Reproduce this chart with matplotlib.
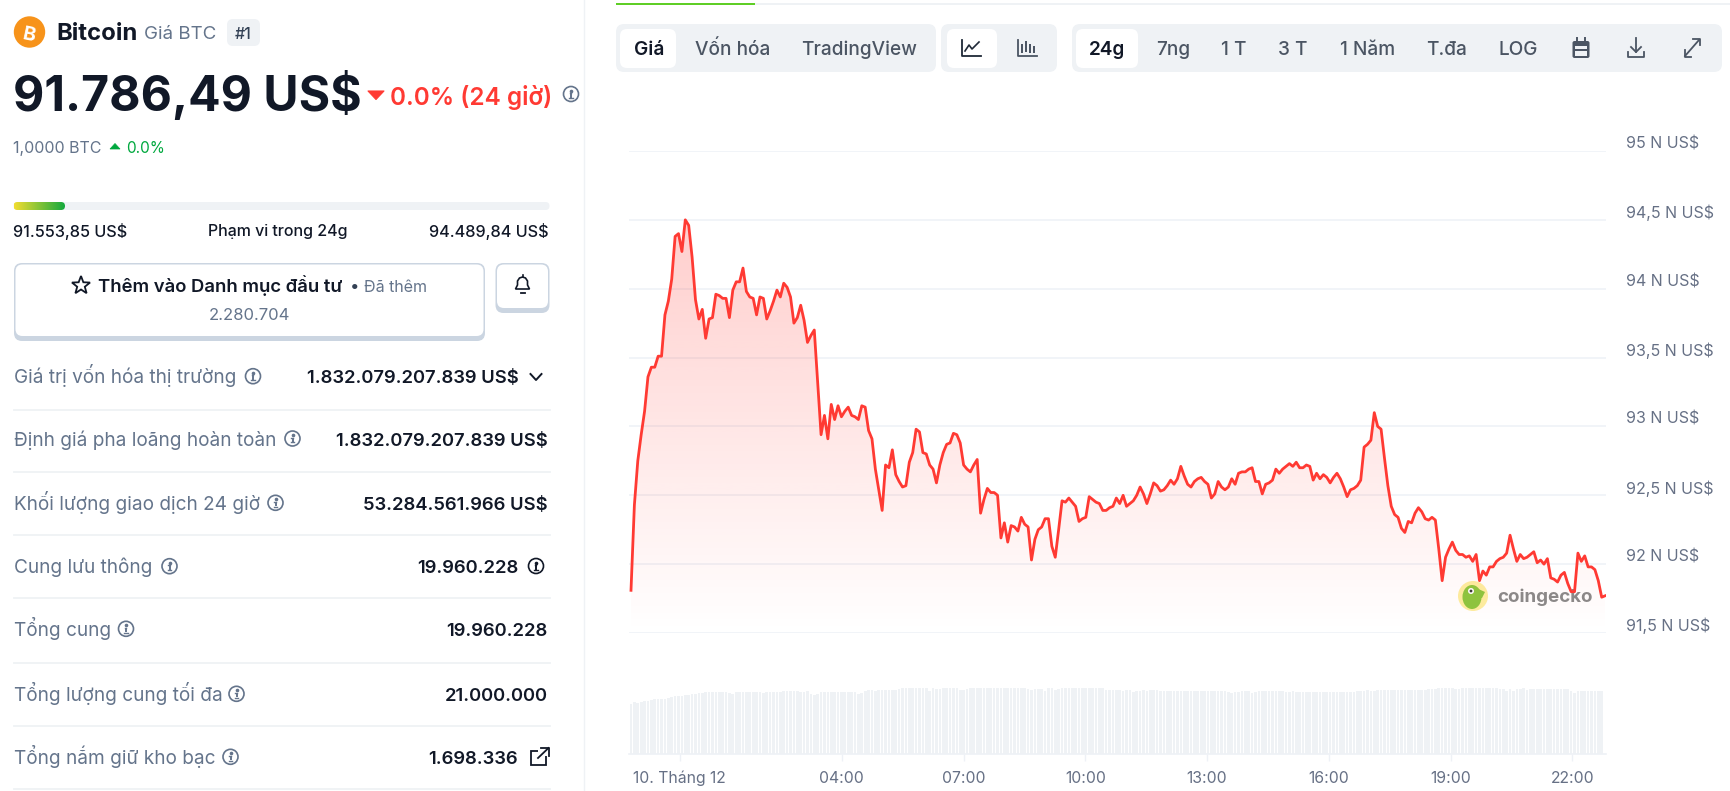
import numpy as np
import matplotlib
matplotlib.use("Agg")
import matplotlib.pyplot as plt
from matplotlib.patches import FancyBboxPatch, Circle, Polygon, Rectangle, Ellipse
from matplotlib.transforms import ScaledTranslation

plt.rcParams['font.family'] = ['Inter', 'Noto Sans', 'DejaVu Sans']

# ---------- data ----------
prices = [
91.81,92.43,92.75,92.94,93.11,93.36,93.43,93.43,93.51,93.51,93.81,93.91,94.07,94.38,94.40,94.27,94.50,94.46,94.23,93.92,
93.78,93.85,93.64,93.78,93.79,93.96,93.95,93.93,93.93,93.79,93.99,94.05,94.05,94.15,93.98,93.94,93.93,93.81,93.94,93.93,
93.78,93.84,93.91,93.99,93.94,94.04,94.01,93.94,93.75,93.79,93.88,93.77,93.61,93.66,93.70,93.32,92.94,93.08,92.91,93.16,
93.05,93.15,93.07,93.11,93.14,93.08,93.07,93.05,93.15,93.14,92.97,92.91,92.69,92.54,92.39,92.72,92.70,92.83,92.65,92.60,
92.56,92.57,92.74,92.81,92.98,92.96,92.81,92.80,92.72,92.69,92.59,92.72,92.81,92.87,92.88,92.95,92.94,92.88,92.72,92.69,
92.67,92.72,92.76,92.37,92.47,92.55,92.52,92.52,92.50,92.19,92.30,92.16,92.28,92.27,92.24,92.34,92.29,92.27,92.03,92.18,
92.25,92.27,92.33,92.33,92.13,92.05,92.25,92.46,92.45,92.48,92.45,92.42,92.31,92.33,92.34,92.49,92.47,92.45,92.44,92.39,
92.39,92.41,92.42,92.48,92.44,92.50,92.42,92.44,92.46,92.50,92.56,92.51,92.44,92.51,92.59,92.57,92.53,92.54,92.57,92.61,
92.58,92.62,92.71,92.64,92.58,92.56,92.60,92.62,92.63,92.60,92.58,92.48,92.51,92.60,92.56,92.54,92.56,92.62,92.58,92.66,
92.67,92.67,92.69,92.70,92.60,92.60,92.51,92.58,92.59,92.61,92.69,92.66,92.69,92.71,92.73,92.71,92.74,92.70,92.70,92.72,
92.71,92.61,92.66,92.62,92.65,92.63,92.59,92.63,92.66,92.62,92.56,92.49,92.54,92.55,92.57,92.61,92.85,92.87,92.90,93.10,
93.00,92.98,92.77,92.57,92.42,92.36,92.34,92.26,92.23,92.31,92.30,92.37,92.41,92.38,92.33,92.32,92.34,92.32,92.11,91.88,
92.05,92.11,92.16,92.10,92.07,92.07,92.05,92.06,92.02,92.07,91.88,91.95,91.92,91.98,91.98,92.02,92.04,92.05,92.08,92.21,
92.11,92.02,92.07,92.04,92.05,92.07,92.09,92.01,92.03,92.00,92.04,91.90,91.89,91.87,91.92,91.94,91.86,91.80,91.80,92.08,
92.02,92.06,91.98,91.98,91.96,91.88,91.76,91.77]

volume_index = [
50.0,52.0,50.7,51.7,52.7,53.3,54.0,54.7,54.7,54.7,55.3,56.0,57.3,57.7,57.7,58.3,58.7,59.3,60.0,60.3,
61.3,60.7,61.7,61.7,61.7,61.7,61.7,61.7,61.7,61.3,60.0,61.7,61.7,61.7,61.7,61.7,61.7,61.7,62.3,61.3,
61.7,61.7,61.7,61.7,61.7,62.7,62.7,62.7,62.7,62.7,61.7,62.0,62.7,60.3,59.0,60.3,61.7,61.7,61.7,61.7,
61.7,61.7,61.7,61.7,61.7,61.7,61.7,60.0,61.3,63.3,64.0,64.0,63.0,64.3,64.3,64.3,64.3,64.3,64.3,65.3,
65.7,65.7,65.7,65.7,65.7,65.7,65.7,65.7,63.0,65.7,64.7,65.3,65.7,65.7,
65.7,65.7,65.7,64.0,64.0,64.7,65.7,65.7,65.7,65.7,65.7,65.7,65.7,65.7,65.7,65.7,65.7,65.7,65.7,65.7,
65.7,65.7,65.7,64.7,64.0,65.3,64.7,65.3,62.7,65.7,65.7,64.0,64.7,65.7,65.7,66.3,66.0,65.7,65.7,65.7,
65.7,66.0,66.0,65.7,65.7,65.7,64.0,64.0,64.0,64.0,64.0,63.0,64.0,64.0,62.3,63.3,63.3,64.0,63.3,64.0,
64.0,64.0,63.0,63.0,63.0,63.0,63.0,63.0,63.0,63.0,63.0,63.0,63.0,63.0,63.0,63.0,63.0,63.0,63.0,63.0,63.0,63.0,62.3,61.3,
62.3,62.0,62.7,62.7,62.7,61.3,62.0,63.0,63.0,63.0,63.0,63.0,63.0,
63.0,63.0,61.7,61.7,63.0,62.0,61.7,61.7,61.7,61.7,61.7,61.7,61.7,61.7,61.7,61.7,61.7,61.7,61.7,61.7,
61.7,61.7,62.0,62.7,63.0,63.0,64.0,63.0,63.0,64.3,64.3,64.3,64.3,64.3,64.3,64.3,64.3,64.3,64.3,64.3,
64.3,64.3,64.3,64.3,65.0,65.3,64.7,65.7,65.7,65.7,65.7,65.7,64.7,65.3,65.7,65.7,65.7,65.7,65.7,65.7,
65.7,65.7,65.7,65.7,65.7,65.0,64.7,63.0,65.3,63.3,65.3,65.0,65.7,64.3,64.7,64.7,64.7,64.7,64.7,64.7,64.7,64.7,65.3,64.7,
64.7,65.3,63.3,60.7,63.0,63.0,63.0,63.0,63.0,63.0,63.0,63.0]

y_ticks = [91.5, 92, 92.5, 93, 93.5, 94, 94.5, 95]
y_labels = ['91,5 N US$', '92 N US$', '92,5 N US$', '93 N US$', '93,5 N US$', '94 N US$', '94,5 N US$', '95 N US$']
x_ticks = [0, 4, 7, 10, 13, 16, 19, 22]
x_labels = ['10. Tháng 12', '04:00', '07:00', '10:00', '13:00', '16:00', '19:00', '22:00']

row_labels = ['Giá trị vốn hóa thị trường', 'Định giá pha loãng hoàn toàn', 'Khối lượng giao dịch 24 giờ',
              'Cung lưu thông', 'Tổng cung', 'Tổng lượng cung tối đa', 'Tổng nắm giữ kho bạc']
row_values = ['1.832.079.207.839 US$', '1.832.079.207.839 US$', '53.284.561.966 US$',
              '19.960.228', '19.960.228', '21.000.000', '1.698.336']

# ---------- palette ----------
DARK = '#111827'
GRAY = '#64748b'
LIGHT = '#eff2f5'
RED = '#ff3a33'
GREEN = '#00a83e'

W, H = 1730, 791
fig = plt.figure(figsize=(W / 100, H / 100), dpi=100, facecolor='white')

ui = fig.add_axes([0, 0, 1, 1], zorder=0)
ui.set_xlim(0, W)
ui.set_ylim(H, 0)
ui.axis('off')


def box(x0, y0, x1, y1, r, fc, ec='none', lw=0, z=1):
    p = FancyBboxPatch((x0, y0), x1 - x0, y1 - y0, boxstyle=f'round,pad=0,rounding_size={r}',
                       fc=fc, ec=ec, lw=lw, zorder=z)
    ui.add_patch(p)
    return p


def txt(x, y, s, size=12.5, color=DARK, weight='normal', ha='left', z=5, va='center_baseline', **kw):
    return ui.text(x, y, s, fontsize=size, color=color, fontweight=weight, ha=ha, va=va, zorder=z, **kw)


def info(x, y, color=GRAY, r=7.5):
    ui.add_patch(Circle((x, y), r, fc='white', ec=color, lw=1.2, zorder=5))
    ui.plot([x, x], [y - 1, y + 3.5], color=color, lw=1.4, zorder=6, solid_capstyle='butt')
    ui.plot([x - 1.5, x], [y - 1, y - 1], color=color, lw=1, zorder=6)
    ui.plot([x - 1.8, x + 1.8], [y + 3.7, y + 3.7], color=color, lw=1, zorder=6)
    ui.plot([x], [y - 3.5], marker='o', ms=1.6, color=color, zorder=6)


# --- header ---
ui.add_patch(Circle((29.5, 32), 15.7, fc='#f7931a', ec='none', zorder=2))
txt(29.5, 32, 'B', size=14, color='white', weight='bold', ha='center', rotation=-12, z=3)
txt(56.5, 32, 'Bitcoin', size=17.2, weight='bold')
txt(144, 32.5, 'Giá BTC', size=13.5, color=GRAY)
box(227, 19, 260, 46, 6, LIGHT)
txt(243.5, 33, '#1', size=11.5, color='#334155', weight='medium', ha='center')
txt(13, 91.5, '91.786,49 US$', size=34.7, weight='bold')
ui.add_patch(Polygon([(368, 91), (384, 91), (376, 99.5)], fc=RED, ec=RED, lw=0.8, zorder=4, joinstyle='round'))
txt(390.5, 95, '0.0% (24 giờ)', size=17.5, color=RED, weight='semibold')
info(571, 94, r=7.5)
txt(13, 147, '1,0000 BTC', size=11.5, color=GRAY)
ui.add_patch(Polygon([(110, 149), (120, 149), (115, 143.5)], fc=GREEN, ec=GREEN, lw=0.5, zorder=4))
txt(126, 147, '0.0%', size=11, color=GREEN)

# --- range bar ---
box(13.5, 202, 549.5, 210, 4, LIGHT)
clip_bar = box(13.5, 202, 65, 210, 4, 'none')
grad = np.linspace(0, 1, 128)[None, :, None]
c0 = np.array(matplotlib.colors.to_rgb('#f2dd30'))
c1 = np.array(matplotlib.colors.to_rgb('#10a83e'))
im = ui.imshow(c0 + (c1 - c0) * grad, extent=(13.5, 65, 210, 202), aspect='auto', zorder=2)
im.set_clip_path(clip_bar)
ui.set_xlim(0, W)
ui.set_ylim(H, 0)
txt(13, 230, '91.553,85 US$', size=11.7, weight='medium')
txt(278, 230, 'Phạm vi trong 24g', size=11.5, weight='medium', ha='center')
txt(549, 230, '94.489,84 US$', size=11.7, weight='medium', ha='right')

# --- buttons ---
box(14, 263, 485, 341, 8, '#cbd5e1')
box(15.5, 264.5, 483.5, 336, 7, 'white')
star = [(81 + (9.5 if k % 2 == 0 else 4) * np.sin(k * np.pi / 5), 285.5 - (9.5 if k % 2 == 0 else 4) * np.cos(k * np.pi / 5)) for k in range(10)]
ui.add_patch(Polygon(star, fc='white', ec=DARK, lw=1.3, zorder=5))
txt(97.5, 284, 'Thêm vào Danh mục đầu tư', size=13.3, weight='semibold')
txt(355, 285, '•', size=12, color='#334155', ha='center')
txt(364, 286, 'Đã thêm', size=11.5, color=GRAY)
txt(249, 314, '2.280.704', size=12, color=GRAY, ha='center')
box(495.5, 263, 549.5, 313, 8, '#cbd5e1')
box(497, 264.5, 548, 308, 7, 'white')
ui.add_patch(Polygon([(515.5, 289), (517.5, 285), (517.5, 281), (519.5, 278), (522.5, 277), (525.5, 278), (527.5, 281), (527.5, 285), (529.5, 289)],
                     fc='white', ec=DARK, lw=1.2, zorder=5))
ui.plot([520.5, 524.5], [292.5, 292.5], color=DARK, lw=1.3, zorder=5)
ui.plot([522.5, 522.5], [275, 277], color=DARK, lw=1.2, zorder=5)

# --- stat rows ---
row_y = [376.7, 439, 503.3, 566.7, 629.3, 694.3, 757.3]
sep_y = [409.5, 472, 535, 598, 663, 726, 789]
info_x = [253, 292.5, 275.5, 169.5, 126, 236.5, 230.5]
value_right = [518.5, 547.5, 547.5, 518.5, 547.5, 547.5, 518]
for lab, val, y, s, ix, vr in zip(row_labels, row_values, row_y, sep_y, info_x, value_right):
    txt(14.5, y + 6.7, lab, size=13.7, color=GRAY, va='baseline')
    info(ix, y - 0.5)
    txt(vr, y + 6.7, val, size=13.25, weight='semibold', ha='right', va='baseline')
    ui.plot([13.5, 549.5], [s, s], color=LIGHT, lw=1.3, zorder=1)
ui.plot([530.5, 536, 541.5], [374, 380, 374], color=DARK, lw=1.4, zorder=5)
info(536, 566, color=DARK)
ui.add_patch(Rectangle((530.5, 751), 15, 14, fc='none', ec=DARK, lw=1.3, zorder=5))
ui.add_patch(Rectangle((538, 746), 12, 10, fc='white', ec='none', zorder=6))
ui.plot([538, 548.5], [758, 748], color=DARK, lw=1.3, zorder=7)
ui.plot([541, 548.5, 548.5], [748, 748, 755.5], color=DARK, lw=1.3, zorder=7)

ui.plot([583.5, 583.5], [0, H], color=LIGHT, lw=1, zorder=1)

# --- tabs and toolbar ---
ui.add_patch(Rectangle((616, 3), 1114, 2, fc=LIGHT, ec='none', zorder=1))
ui.add_patch(Rectangle((616, 2.5), 139, 2.5, fc='#5fce26', ec='none', zorder=2))
box(616, 24, 936, 72, 8, LIGHT)
box(941, 24, 1057, 72, 8, LIGHT)
box(1072, 24, 1722, 72, 8, LIGHT)
box(620, 29, 676, 68, 7, 'white', z=2)
box(947, 29, 997, 68, 7, 'white', z=2)
box(1076, 29, 1138, 68, 7, 'white', z=2)
for x, s, active in [(649, 'Giá', True), (733, 'Vốn hóa', False), (859, 'TradingView', False),
                     (1107, '24g', True), (1173, '7ng', False), (1234, '1 T', False), (1293, '3 T', False),
                     (1367.5, '1 Năm', False), (1447, 'T.đa', False), (1518, 'LOG', False)]:
    txt(x, 48, s, size=13.7, color=DARK if active else '#4b5563', weight='semibold' if active else 'medium', ha='center')
# line icon
ui.plot([962, 962, 981], [40, 56, 56], color='#1f2937', lw=1.3, zorder=5)
ui.plot([965, 969, 972, 975, 979], [51, 45, 49, 46, 42], color='#1f2937', lw=1.2, zorder=5)
# candle icon
ui.plot([1018, 1018, 1037], [40, 56, 56], color='#4b5563', lw=1.3, zorder=5)
for cx, y0, y1 in [(1022, 44, 53), (1026, 41, 52), (1030, 44, 53), (1034, 46, 53)]:
    ui.add_patch(Rectangle((cx - 1.1, y0), 2.2, y1 - y0, fc='#4b5563', ec='none', zorder=5))
# calendar icon
box(1572.5, 41, 1589.5, 58, 2, '#4b5563', z=5)
ui.add_patch(Rectangle((1575, 46), 12, 2.5, fc=LIGHT, ec='none', zorder=6))
ui.add_patch(Rectangle((1575, 51), 12, 5, fc=LIGHT, ec='none', zorder=6))
ui.plot([1577, 1577], [38, 42], color='#4b5563', lw=1.4, zorder=5)
ui.plot([1585, 1585], [38, 42], color='#4b5563', lw=1.4, zorder=5)
# download icon
ui.plot([1636, 1636], [38, 52], color='#4b5563', lw=1.3, zorder=5)
ui.plot([1631, 1636, 1641], [47, 52, 47], color='#4b5563', lw=1.3, zorder=5)
ui.plot([1628, 1628, 1644, 1644], [52, 57, 57, 52], color='#4b5563', lw=1.3, zorder=5)
# expand icon
ui.plot([1685, 1699], [56, 40], color='#4b5563', lw=1.3, zorder=5)
ui.plot([1693, 1699.5, 1699.5], [39, 39, 45], color='#4b5563', lw=1.3, zorder=5)
ui.plot([1684.5, 1684.5, 1691], [50, 57, 57], color='#4b5563', lw=1.3, zorder=5)

# ---------- price chart ----------
X0, X1 = 629, 1606
PX_PER_H = 40.58
HOUR0 = 679.5
x_lim = ((X0 - HOUR0) / PX_PER_H, (X1 - HOUR0) / PX_PER_H)
step = 3.394 / PX_PER_H
t = (631 - HOUR0) / PX_PER_H + np.arange(len(prices)) * step
t_v = (631 - HOUR0) / PX_PER_H + np.arange(len(volume_index)) * step

ax = fig.add_axes([X0 / W, 1 - 633 / H, (X1 - X0) / W, (633 - 151) / H], zorder=2)
ax.patch.set_alpha(0)
for sp in ax.spines.values():
    sp.set_visible(False)
ax.set_xlim(*x_lim)
ax.set_ylim(91.5, 95)
ax.set_yticks(y_ticks)
ax.set_yticklabels(y_labels)
ax.yaxis.tick_right()
ax.set_xticks([])
ax.tick_params(axis='y', length=0, pad=14.7, labelsize=11.5, labelcolor='#667085')
offset = ScaledTranslation(0, 8.5 / 100, fig.dpi_scale_trans)
for lab in ax.get_yticklabels():
    lab.set_transform(lab.get_transform() + offset)
ax.grid(axis='y', color='#eef1f6', lw=1.1, zorder=0)
ax.set_axisbelow(True)

poly = ax.fill_between(t, prices, 91.5, color='none', zorder=1)
rgba = np.zeros((256, 1, 4))
rgba[..., 0], rgba[..., 1], rgba[..., 2] = 1.0, 58 / 255, 51 / 255
rgba[..., 3] = np.linspace(0.25, 0.0, 256)[:, None]
grad_im = ax.imshow(rgba, extent=(t[0], t[-1], 91.5, 94.5), origin='upper', aspect='auto', zorder=1)
grad_im.set_clip_path(poly.get_paths()[0], transform=ax.transData)
ax.set_xlim(*x_lim)
ax.set_ylim(91.5, 95)
ax.plot(t, prices, color=RED, lw=2.0, zorder=3, solid_joinstyle='round')

# watermark
ui.add_patch(Circle((1473, 596), 15, fc='#fdeea0', ec='none', zorder=3))
ui.add_patch(Ellipse((1472, 597), 19, 24, fc='#8dc63f', ec='none', zorder=3))
ui.add_patch(Polygon([(1474, 587), (1485, 592), (1482, 598), (1474, 598)], fc='#8dc63f', ec='none', zorder=3))
ui.add_patch(Circle((1471, 591), 3, fc='white', ec='none', zorder=4))
ui.add_patch(Circle((1471, 591), 1.4, fc='#3a3a3a', ec='none', zorder=4))
txt(1497, 595, 'coingecko', size=13.5, color='#8a8a8a', weight='bold')

# ---------- volume ----------
av = fig.add_axes([X0 / W, 1 - 754 / H, (X1 - X0) / W, 67 / H], zorder=2)
av.patch.set_alpha(0)
for k, sp in av.spines.items():
    sp.set_visible(k == 'bottom')
av.spines['bottom'].set_color('#eef1f6')
av.spines['bottom'].set_linewidth(1.2)
av.bar(t_v, volume_index, width=step * 0.78, color='#eff2f5', linewidth=0)
av.set_xlim(*x_lim)
av.set_ylim(0, 67)
av.set_yticks([])
av.set_xticks(x_ticks)
av.set_xticklabels(x_labels)
av.tick_params(axis='x', length=5, width=1, color='#eef1f6', pad=7, labelsize=11.35, labelcolor='#667085')

fig.savefig('out.png', dpi=100, facecolor='white')
